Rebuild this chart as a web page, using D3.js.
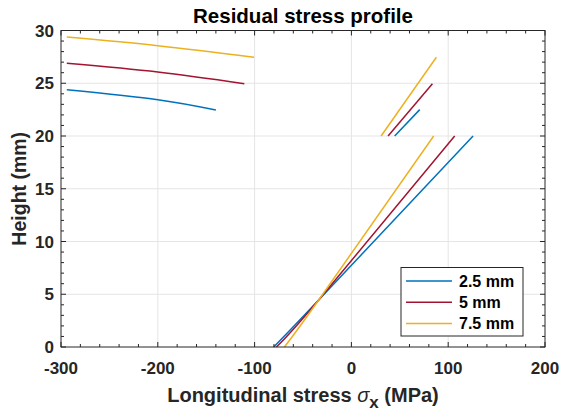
<!DOCTYPE html>
<html>
<head>
<meta charset="utf-8">
<script src="https://cdn.jsdelivr.net/npm/d3@7"></script>
<style>
	body { margin: 0; background: #fff; }
	svg { font-family: "Liberation Sans", Arial, Helvetica, sans-serif; font-weight: bold; }
	.grid line { stroke: #e5e5e5; stroke-width: 1; }
	.tick-label { font-size: 17px; fill: #262626; }
</style>
</head>
<body>
<svg width="561" height="412"></svg>
<script>
const seriesNames = ["2.5 mm", "5 mm", "7.5 mm"];
const seriesColors = ["#0072BD", "#A2142F", "#EDB120"];

// [stress (MPa), height (mm)] per segment
const base25 = [[-80.3, 0], [-33.8, 4.45], [125.7, 20]];
const step25 = [[44.7, 20], [70.6, 22.5]];
const top25 = [[-294, 24.39], [-200, 23.44], [-140, 22.46]];

const base50 = [[-77.5, 0], [-33.8, 4.45], [106.7, 20]];
const step50 = [[37.9, 20], [83.7, 24.95]];
const top50 = [[-294, 26.9], [-200, 26.07], [-110.6, 24.96]];

const base75 = [[-69.2, 0], [-33.8, 4.45], [85, 20]];
const step75 = [[30.7, 20], [87.8, 27.46]];
const top75 = [[-294, 29.38], [-200, 28.56], [-100.6, 27.46]];

const segments = [
	[base25, step25, top25],
	[base50, step50, top50],
	[base75, step75, top75]
];

const xTicks = [-300, -200, -100, 0, 100, 200];
const yTicks = [0, 5, 10, 15, 20, 25, 30];

const svg = d3.select("svg");
const plotLeft = 61, plotRight = 545, plotTop = 30.5, plotBottom = 347;

const x = d3.scaleLinear().domain([-300, 200]).range([plotLeft, plotRight]);
const y = d3.scaleLinear().domain([0, 30]).range([plotBottom, plotTop]);

// grid
const grid = svg.append("g").attr("class", "grid");
grid.selectAll(".gx").data(xTicks.slice(1, -1)).enter().append("line")
	.attr("x1", d => x(d)).attr("x2", d => x(d))
	.attr("y1", plotTop).attr("y2", plotBottom);
grid.selectAll(".gy").data(yTicks.slice(1, -1)).enter().append("line")
	.attr("x1", plotLeft).attr("x2", plotRight)
	.attr("y1", d => y(d)).attr("y2", d => y(d));

// series
const line = d3.line()
	.x(d => x(d[0]))
	.y(d => y(d[1]))
	.curve(d3.curveNatural);

segments.forEach((segs, i) => {
	svg.append("g").selectAll("path").data(segs).enter().append("path")
		.attr("d", line)
		.attr("fill", "none")
		.attr("stroke", seriesColors[i])
		.attr("stroke-width", 1.5);
});

// axes box with inward ticks
const axisColor = "#262626";
const minorX = d3.range(-300, 201, 20);
const minorY = d3.range(0, 31, 1);
const ticksG = svg.append("g").attr("stroke", axisColor).attr("stroke-width", 1);

minorX.forEach(v => {
	const len = xTicks.includes(v) ? 5 : 3;
	ticksG.append("line").attr("x1", x(v)).attr("x2", x(v)).attr("y1", plotBottom).attr("y2", plotBottom - len);
	ticksG.append("line").attr("x1", x(v)).attr("x2", x(v)).attr("y1", plotTop).attr("y2", plotTop + len);
});
minorY.forEach(v => {
	const len = yTicks.includes(v) ? 5 : 3;
	ticksG.append("line").attr("x1", plotLeft).attr("x2", plotLeft + len).attr("y1", y(v)).attr("y2", y(v));
	ticksG.append("line").attr("x1", plotRight).attr("x2", plotRight - len).attr("y1", y(v)).attr("y2", y(v));
});

svg.append("rect")
	.attr("x", plotLeft).attr("y", plotTop)
	.attr("width", plotRight - plotLeft).attr("height", plotBottom - plotTop)
	.attr("fill", "none").attr("stroke", axisColor).attr("stroke-width", 1);

// tick labels
svg.append("g").selectAll("text").data(xTicks).enter().append("text")
	.attr("class", "tick-label")
	.attr("x", d => x(d))
	.attr("y", 374)
	.attr("text-anchor", "middle")
	.text(d => d);

svg.append("g").selectAll("text").data(yTicks).enter().append("text")
	.attr("class", "tick-label")
	.attr("x", 54)
	.attr("y", d => y(d) + 6)
	.attr("text-anchor", "end")
	.text(d => d);

// title and axis labels
svg.append("text")
	.attr("x", (plotLeft + plotRight) / 2)
	.attr("y", 23)
	.attr("text-anchor", "middle")
	.style("font-size", "20.5px")
	.attr("fill", "#000")
	.text("Residual stress profile");

const xl = svg.append("text")
	.attr("x", (plotLeft + plotRight) / 2)
	.attr("y", 402)
	.attr("text-anchor", "middle")
	.style("font-size", "20px")
	.attr("fill", "#262626");
xl.append("tspan").text("Longitudinal stress ");
xl.append("tspan").text("σ").style("font-style", "italic").style("font-weight", "normal");
xl.append("tspan").text("x").attr("dy", 6).style("font-size", "17px");
xl.append("tspan").text(" (MPa)").attr("dy", -6);

svg.append("text")
	.attr("transform", "translate(26," + ((plotTop + plotBottom) / 2) + ") rotate(-90)")
	.attr("text-anchor", "middle")
	.style("font-size", "19.5px")
	.attr("fill", "#262626")
	.text("Height (mm)");

// legend
const legend = svg.append("g");
legend.append("rect")
	.attr("x", 401).attr("y", 267.5)
	.attr("width", 122).attr("height", 68.5)
	.attr("fill", "#fff").attr("stroke", axisColor).attr("stroke-width", 1);

seriesNames.forEach((name, i) => {
	const ly = 281 + i * 21.3;
	legend.append("line")
		.attr("x1", 406).attr("x2", 452)
		.attr("y1", ly).attr("y2", ly)
		.attr("stroke", seriesColors[i]).attr("stroke-width", 1.5);
	legend.append("text")
		.attr("x", 459).attr("y", ly + 5.5)
		.style("font-size", "16px")
		.attr("fill", "#000")
		.text(name);
});
</script>
</body>
</html>
